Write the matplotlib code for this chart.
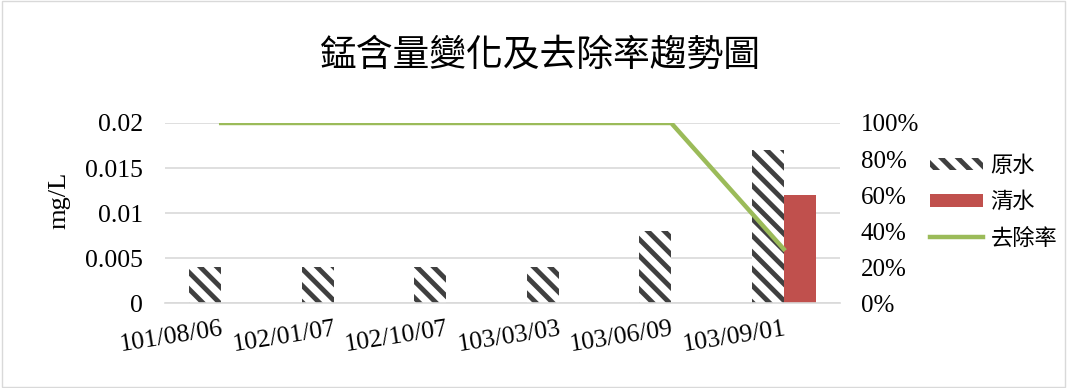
import matplotlib
matplotlib.use("Agg")
import matplotlib.pyplot as plt
import numpy as np
from matplotlib.patches import Rectangle

categories = ["101/08/06", "102/01/07", "102/10/07", "103/03/03", "103/06/09", "103/09/01"]
raw_water = [0.004, 0.004, 0.004, 0.004, 0.008, 0.017]
clean_water = [0, 0, 0, 0, 0, 0.012]
removal = [1.0, 1.0, 1.0, 1.0, 1.0, 0.30]

plt.rcParams['hatch.linewidth'] = 3.5
serif = ['Liberation Serif', 'Noto Sans CJK TC']
cjk = ['Noto Sans CJK TC', 'DejaVu Sans']

fig = plt.figure(figsize=(10.67, 3.88), dpi=100)
fig.patches.append(Rectangle((0.002, 0.003), 0.996, 0.994, transform=fig.transFigure,
                             fill=False, edgecolor='#d9d9d9', linewidth=1))
ax = fig.add_axes([0.1546, 0.219, 0.6326, 0.464])
x = np.arange(len(categories))
w = 0.285
ax.bar(x - w/2, raw_water, width=w, facecolor='white', edgecolor='#404040', linewidth=0,
       hatch='\\\\', label='原水')
ax.bar(x + w/2, clean_water, width=w, color='#c0504d', label='清水')
ax.set_xlim(-0.5, len(categories) - 0.5)
ax.set_ylim(0, 0.02)
ax.set_yticks([0, 0.005, 0.01, 0.015, 0.02])
ax.set_yticklabels(['0', '0.005', '0.01', '0.015', '0.02'], family=serif, fontsize=18.5)
ax.grid(axis='y', color='#d9d9d9', linewidth=1.2)
ax.set_axisbelow(True)
for s in ['top', 'right', 'left']:
    ax.spines[s].set_visible(False)
ax.spines['bottom'].set_color('#d9d9d9')
ax.spines['bottom'].set_linewidth(1.2)
ax.tick_params(axis='y', length=0, pad=16)
ax.tick_params(axis='x', length=0, pad=11)
ax.set_xticks(x)
ax.set_xticklabels(categories, rotation=9, family=serif, fontsize=18.5,
                   ha='right', va='top', rotation_mode='anchor')
ax.set_ylabel('mg/L', family=serif, fontsize=19)
ax.yaxis.set_label_coords(-0.14, 0.57)

ax2 = ax.twinx()
ax2.plot(x, removal, color='#9bbb59', linewidth=3.2, label='去除率')
ax2.set_ylim(0, 1.0)
ax2.set_yticks([0, 0.2, 0.4, 0.6, 0.8, 1.0])
ax2.set_yticklabels(['0%', '20%', '40%', '60%', '80%', '100%'], family=serif, fontsize=18)
for s in ['top', 'right', 'left', 'bottom']:
    ax2.spines[s].set_visible(False)
ax2.tick_params(length=0, pad=15)

fig.text(0.506, 0.858, '錳含量變化及去除率趨勢圖', ha='center', va='center', fontsize=26.5, family=cjk)

h1, l1 = ax.get_legend_handles_labels()
h2, l2 = ax2.get_legend_handles_labels()
leg = fig.legend(h1 + h2, l1 + l2, loc='center left', bbox_to_anchor=(0.872, 0.48),
                 frameon=False, prop={'family': cjk, 'size': 16}, handlelength=2.35,
                 handleheight=0.5, labelspacing=0.6, handletextpad=0.36, borderaxespad=0,
                 borderpad=0)
fig.savefig('out.png', dpi=100)
